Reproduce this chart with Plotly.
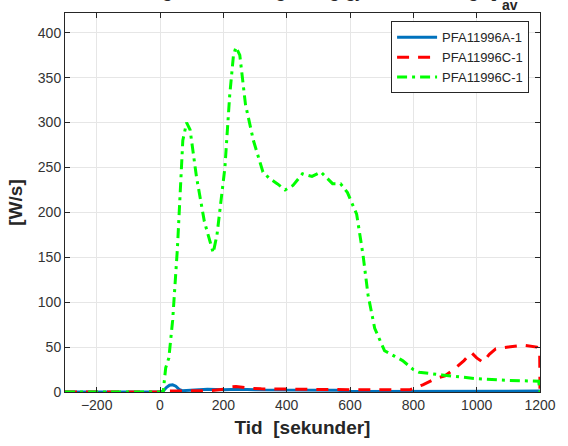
import plotly.graph_objects as go

# ---- data ----
blue_name = "PFA11996A-1"
red_name = "PFA11996C-1"
green_name = "PFA11996C-1"

blue_x = [-300, 0, 10, 20, 30, 40, 50, 60, 70, 100, 150, 200, 250, 300, 400, 500, 560, 600, 620, 700, 800, 1000, 1200]
blue_y = [0, 0, 1, 5, 7.5, 8, 6.5, 3, 1.5, 2, 3, 2.5, 3, 2.5, 2.5, 2, 2, 0.5, 0.5, 1, 1, 1, 1]

red_x = [-300, 0, 20, 40, 60, 80, 120, 160, 200, 220, 240, 260, 290, 320, 400, 500, 600, 700, 790, 830, 870, 900, 931, 960, 983, 1000, 1020, 1040, 1060, 1100, 1149, 1190, 1199, 1200]
red_y = [0, 0, 1, 1, 1.5, 1, 1, 1.5, 3, 5.5, 6, 5, 4, 3.5, 3, 2.5, 2.5, 2.5, 2.5, 8, 15, 18, 26, 35, 44, 38, 33, 42, 48, 50, 52, 50, 47, 0]

green_x = [-300, 0, 10, 18, 28, 40, 55, 72, 84, 95, 115, 140, 168, 180, 205, 220, 232, 240, 252, 270, 295, 325, 345, 370, 395, 420, 450, 480, 508, 545, 570, 592, 621, 641, 657, 678, 709, 740, 766, 800, 818, 890, 994, 1097, 1196, 1200]
green_y = [0, 0, 0, 27, 38, 80, 160, 280, 300, 292, 240, 190, 155, 175, 250, 330, 375, 384, 375, 320, 280, 245, 238, 232, 225, 230, 243, 240, 245, 232, 232, 222, 198, 153, 108, 71, 46, 40, 35, 25, 22, 19, 15, 13, 12, 0]

x_ticks = [-200, 0, 200, 400, 600, 800, 1000, 1200]
y_ticks = [0, 50, 100, 150, 200, 250, 300, 350, 400]

fig = go.Figure()
fig.add_trace(go.Scatter(x=blue_x, y=blue_y, mode="lines", name=blue_name,
                         line=dict(color="#0072BD", width=3)))
fig.add_trace(go.Scatter(x=red_x, y=red_y, mode="lines", name=red_name,
                         line=dict(color="#FF0000", width=3, dash="12px,9px")))
fig.add_trace(go.Scatter(x=green_x, y=green_y, mode="lines", name=green_name,
                         line=dict(color="#00FF00", width=3, dash="10px,5px,3px,5px")))

axis_common = dict(
    showline=True, linecolor="#262626", linewidth=1, mirror="ticks",
    ticks="inside", ticklen=5, tickcolor="#262626",
    showgrid=True, gridcolor="#e6e6e6", gridwidth=1, zeroline=False,
    tickfont=dict(family="Liberation Sans, Arial", size=14, color="#333333"),
)

fig.update_layout(
    width=568, height=446,
    margin=dict(l=65, r=17, t=13, b=52),
    plot_bgcolor="white", paper_bgcolor="white",
    xaxis=dict(range=[-300, 1200], tickvals=x_ticks,
               title=dict(text="<b>Tid  [sekunder]</b>", standoff=8,
                          font=dict(family="Liberation Sans, Arial", size=19, color="#262626")),
               **axis_common),
    yaxis=dict(range=[0, 422], tickvals=y_ticks,
               title=dict(text="<b>[W/s]</b>", standoff=10,
                          font=dict(family="Liberation Sans, Arial", size=19, color="#262626")),
               **axis_common),
    legend=dict(x=0.977, y=0.978, xanchor="right", yanchor="top",
                bgcolor="white", bordercolor="#262626", borderwidth=1,
                font=dict(family="Liberation Sans, Arial", size=13, color="#262626"),
                tracegroupgap=0, itemwidth=40),
    showlegend=True,
)

# title at the very top, clipped by the page edge as in the reference
fig.add_annotation(xref="paper", yref="paper", x=0.915, y=1.0, xanchor="right", yanchor="bottom",
                   yshift=10, showarrow=False,
                   text="<b>Varmeavgivelseshastighet og gjennomsnittlig Q</b>",
                   font=dict(family="Liberation Sans, Arial", size=18, color="#262626"))
fig.add_annotation(xref="paper", yref="paper", x=0.915, y=1.0, xanchor="left", yanchor="bottom",
                   yshift=-2, showarrow=False,
                   text="<b>av</b>",
                   font=dict(family="Liberation Sans, Arial", size=14, color="#262626"))

fig.write_html("out.html")
